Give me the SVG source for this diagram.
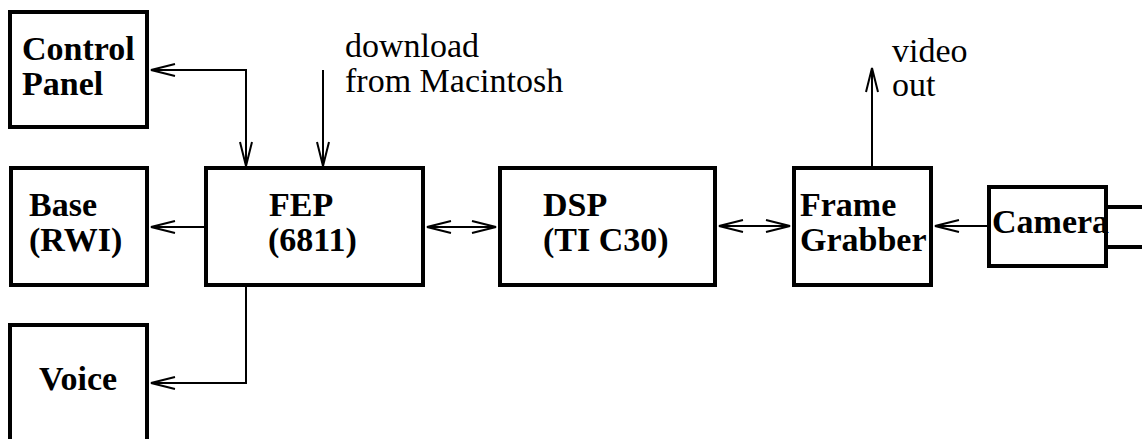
<svg xmlns="http://www.w3.org/2000/svg" width="1142" height="439" viewBox="0 0 1142 439">
<style>
.box{fill:#fff;stroke:#000;stroke-width:4}
.n{font-family:"Liberation Serif","Times New Roman",serif;font-weight:bold;font-size:34px;fill:#000}
.l{font-family:"Liberation Serif","Times New Roman",serif;font-size:34px;fill:#000}
.c{fill:none;stroke:#000;stroke-width:2}
</style>
<defs>
<marker id="ah" markerUnits="userSpaceOnUse" markerWidth="30" markerHeight="16" viewBox="-27 -8 30 16" refX="0" refY="0" orient="auto-start-reverse">
<path d="M-24,-6 L0,0 L-24,6" fill="none" stroke="#000" stroke-width="2"/>
</marker>
</defs>
<g id="connectors">
<path class="c" d="M246,166 V70 H151" marker-start="url(#ah)" marker-end="url(#ah)"/>
<path class="c" d="M323,70 V166" marker-end="url(#ah)"/>
<path class="c" d="M204,227 H151" marker-end="url(#ah)"/>
<path class="c" d="M427,227 H496" marker-start="url(#ah)" marker-end="url(#ah)"/>
<path class="c" d="M719,226 H790" marker-start="url(#ah)" marker-end="url(#ah)"/>
<path class="c" d="M872,166 V68" marker-end="url(#ah)"/>
<path class="c" d="M987,226 H935" marker-end="url(#ah)"/>
<path class="c" d="M246,287 V383 H151" marker-end="url(#ah)"/>
</g>
<g id="control-panel">
<rect class="box" x="10" y="12" width="137" height="115"/>
<text class="n" x="22" y="60">Control</text>
<text class="n" x="22" y="95">Panel</text>
</g>
<g id="base">
<rect class="box" x="11" y="168" width="136" height="117"/>
<text class="n" x="29" y="216">Base</text>
<text class="n" x="29" y="251">(RWI)</text>
</g>
<g id="fep">
<rect class="box" x="206" y="168" width="217" height="117"/>
<text class="n" x="269" y="216">FEP</text>
<text class="n" x="268" y="251">(6811)</text>
</g>
<g id="dsp">
<rect class="box" x="500" y="168" width="215" height="117"/>
<text class="n" x="543" y="216">DSP</text>
<text class="n" x="543" y="251">(TI C30)</text>
</g>
<g id="frame-grabber">
<rect class="box" x="794" y="168" width="137" height="117"/>
<text class="n" x="800" y="216">Frame</text>
<text class="n" x="800" y="251">Grabber</text>
</g>
<g id="camera">
<rect class="box" x="989" y="187" width="117" height="79"/>
<path d="M1106,207 H1142 M1106,247 H1142" stroke="#000" stroke-width="4" fill="none"/>
<text class="n" x="992" y="233">Camera</text>
</g>
<g id="voice">
<rect class="box" x="10" y="325" width="137" height="120"/>
<text class="n" x="39" y="390">Voice</text>
</g>
<g id="labels">
<text class="l" x="345" y="57">download</text>
<text class="l" x="345" y="92">from Macintosh</text>
<text class="l" x="892" y="62">video</text>
<text class="l" x="892" y="96">out</text>
</g>
</svg>
